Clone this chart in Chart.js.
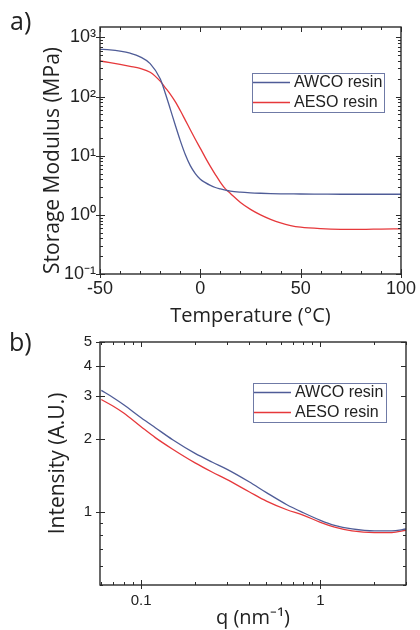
<!DOCTYPE html>
<html>
<head>
<meta charset="utf-8">
<script src="https://cdn.jsdelivr.net/npm/chart.js@4.4.0/dist/chart.umd.min.js"></script>
<style>
    html, body { margin: 0; padding: 0; background: #fff; }
    body { width: 420px; height: 630px; position: relative; overflow: hidden; }
    .panel { position: absolute; left: 0; width: 420px; }
    #topWrap { top: 0; height: 330px; }
    #bottomWrap { top: 325px; height: 305px; }
    .tag { position: absolute; font-family: 'Open Sans', sans-serif; font-size: 25px; line-height: 1; color: #222; }
</style>
</head>
<body>
<div class="panel" id="topWrap"><canvas id="modulusChart"></canvas></div>
<div class="panel" id="bottomWrap"><canvas id="saxsChart"></canvas></div>
<div class="tag" style="left:10px; top:8px;">a)</div>
<div class="tag" style="left:9px; top:329px;">b)</div>
<script>
const COLORS = {
    AWCO: '#4f5c97',
    AESO: '#e6383b',
    FRAME: '#2b2b2b',
    LEGEND_BOX: '#6f7aa6',
    TEXT: '#222'
};

// a) storage modulus vs temperature
const temperature = [-50, -45, -40, -35, -30, -25, -20, -17.5, -15, -12.5, -10, -7.5, -5, -2.5, 0, 2.5, 5, 7.5, 10, 12.5, 15, 20, 25, 30, 35, 40, 45, 50, 60, 70, 80, 90, 100];
const awcoModulus = [630, 615, 585, 540, 470, 360, 200, 115, 62, 33, 18, 10.5, 6.8, 5.0, 4.0, 3.5, 3.15, 2.9, 2.75, 2.62, 2.52, 2.42, 2.36, 2.32, 2.29, 2.27, 2.26, 2.25, 2.24, 2.23, 2.23, 2.23, 2.23];
const aesoModulus = [400, 375, 350, 325, 300, 258, 182, 142, 110, 82, 58, 40, 27.5, 19, 13.3, 9.3, 6.6, 4.8, 3.55, 2.75, 2.3, 1.62, 1.24, 1.0, 0.84, 0.73, 0.66, 0.62, 0.585, 0.57, 0.568, 0.575, 0.58];
const temperatureTicks = [-50, 0, 50, 100];
const modulusTicks = [0.1, 1, 10, 100, 1000];
const modulusTickLabels = ['10⁻¹', '10⁰', '10¹', '10²', '10³'];

// b) scattering intensity vs q
const q = [0.06, 0.07, 0.08, 0.1, 0.12, 0.15, 0.2, 0.25, 0.3, 0.4, 0.5, 0.65, 0.8, 1.0, 1.2, 1.5, 2.0, 2.5, 3.0];
const awcoIntensity = [3.16, 2.95, 2.76, 2.44, 2.22, 1.98, 1.74, 1.6, 1.5, 1.33, 1.2, 1.07, 0.993, 0.923, 0.88, 0.851, 0.835, 0.835, 0.85];
const aesoIntensity = [2.9, 2.72, 2.55, 2.24, 2.02, 1.81, 1.59, 1.455, 1.36, 1.21, 1.107, 1.02, 0.97, 0.905, 0.865, 0.835, 0.822, 0.822, 0.84];
const qTicks = [0.1, 1];
const qTickLabels = ['0.1', '1'];
const intensityTicks = [1, 2, 3, 4, 5];
const intensityTickLabels = ['1', '2', '3', '4', '5'];

const TICK_FONT = '"Liberation Sans", Arial, sans-serif';
const TITLE_FONT = '"Open Sans", sans-serif';

/**
 * Values for the small ticks of a scale: every k*10^n on a log axis,
 * every `step` units on a linear one.
 */
const minorValues = (scale, step) => {
    const out = [];
    if (scale.type === 'logarithmic') {
        const lo = Math.floor(Math.log10(scale.min));
        const hi = Math.ceil(Math.log10(scale.max));
        for (let e = lo; e <= hi; e++) {
            for (let k = 1; k < 10; k++) {
                const v = k * Math.pow(10, e);
                if (v >= scale.min * 0.999 && v <= scale.max * 1.001) out.push(v);
            }
        }
    } else {
        for (let v = scale.min; v <= scale.max + 1e-9; v += step) out.push(v);
    }
    return out;
};

// Origin style box with inward ticks on all four sides
const frameTicks = {
    id: 'frameTicks',
    afterDatasetsDraw(chart, args, opts) {
        const { ctx, chartArea: { left, right, top, bottom }, scales: { x, y } } = chart;
        ctx.save();
        ctx.strokeStyle = COLORS.FRAME;
        ctx.lineWidth = 1;
        ctx.beginPath();
        for (const v of minorValues(x, opts.xStep)) {
            const px = Math.round(x.getPixelForValue(v)) + 0.5;
            ctx.moveTo(px, bottom); ctx.lineTo(px, bottom - 3);
            ctx.moveTo(px, top); ctx.lineTo(px, top + 3);
        }
        for (const v of minorValues(y, opts.yStep)) {
            const py = Math.round(y.getPixelForValue(v)) + 0.5;
            ctx.moveTo(left, py); ctx.lineTo(left + 3, py);
            ctx.moveTo(right, py); ctx.lineTo(right - 3, py);
        }
        for (const t of x.ticks) {
            const px = Math.round(x.getPixelForValue(t.value)) + 0.5;
            ctx.moveTo(px, bottom + 4); ctx.lineTo(px, bottom - 5);
            ctx.moveTo(px, top); ctx.lineTo(px, top + 5);
        }
        for (const t of y.ticks) {
            const py = Math.round(y.getPixelForValue(t.value)) + 0.5;
            ctx.moveTo(left - 4, py); ctx.lineTo(left + 5, py);
            ctx.moveTo(right, py); ctx.lineTo(right - 5, py);
        }
        ctx.stroke();
        ctx.lineWidth = 1.4;
        ctx.strokeRect(left, top, right - left, bottom - top);
        ctx.restore();
    }
};

// boxed legend sitting inside the plot
const boxLegend = {
    id: 'boxLegend',
    afterDraw(chart, args, opts) {
        const { ctx } = chart;
        const sets = chart.data.datasets;
        ctx.save();
        ctx.strokeStyle = COLORS.LEGEND_BOX;
        ctx.lineWidth = 1;
        ctx.strokeRect(opts.x + 0.5, opts.y + 0.5, opts.width, opts.height);
        ctx.font = '16px ' + TICK_FONT;
        ctx.textBaseline = 'middle';
        sets.forEach((ds, i) => {
            const cy = opts.y + opts.firstRow + i * opts.rowHeight;
            ctx.strokeStyle = ds.borderColor;
            ctx.lineWidth = 1.3;
            ctx.beginPath();
            ctx.moveTo(opts.x + 1, cy);
            ctx.lineTo(opts.x + 1 + opts.lineLength, cy);
            ctx.stroke();
            ctx.fillStyle = COLORS.TEXT;
            ctx.fillText(ds.label, opts.x + opts.lineLength + 5, cy);
        });
        ctx.restore();
    }
};

const fixedTicks = (values) => (scale) => {
    scale.ticks = values.map(v => ({ value: v }));
};

const lineSet = (label, xs, ys, color) => ({
    label,
    data: xs.map((v, i) => ({ x: v, y: ys[i] })),
    borderColor: color,
    backgroundColor: color,
    borderWidth: 1.3,
    pointRadius: 0,
    cubicInterpolationMode: 'monotone'
});

new Chart(document.getElementById('modulusChart'), {
    type: 'line',
    data: {
        datasets: [
            lineSet('AWCO resin', temperature, awcoModulus, COLORS.AWCO),
            lineSet('AESO resin', temperature, aesoModulus, COLORS.AESO)
        ]
    },
    plugins: [frameTicks, boxLegend],
    options: {
        responsive: true,
        maintainAspectRatio: false,
        animation: false,
        layout: { autoPadding: false, padding: { top: 27, right: 14, left: 0, bottom: 0 } },
        plugins: {
            legend: { display: false },
            tooltip: { enabled: false },
            frameTicks: { xStep: 10 },
            boxLegend: { x: 252, y: 73, width: 132, height: 39, firstRow: 9.5, rowHeight: 20, lineLength: 37 }
        },
        scales: {
            x: {
                type: 'linear',
                min: -50,
                max: 100,
                afterBuildTicks: fixedTicks(temperatureTicks),
                afterFit: s => { s.height = 56; },
                grid: { display: false, drawTicks: false },
                border: { display: false },
                ticks: { color: COLORS.TEXT, font: { family: TICK_FONT, size: 18 }, padding: 4, maxRotation: 0, autoSkip: false },
                title: { display: true, text: 'Temperature (°C)', color: COLORS.TEXT, font: { family: TITLE_FONT, size: 20 }, padding: { top: 0, bottom: 2 } }
            },
            y: {
                type: 'logarithmic',
                min: 0.1,
                max: 1500,
                afterBuildTicks: fixedTicks(modulusTicks),
                afterFit: s => { s.width = 100; },
                grid: { display: false, drawTicks: false },
                border: { display: false },
                ticks: {
                    color: COLORS.TEXT,
                    font: { family: TICK_FONT, size: 18 },
                    padding: 4,
                    autoSkip: false,
                    callback: v => modulusTickLabels[modulusTicks.indexOf(v)]
                },
                title: { display: true, text: 'Storage Modulus (MPa)', align: 'start', color: COLORS.TEXT, font: { family: TITLE_FONT, size: 21 }, padding: { top: 40, bottom: 0 } }
            }
        }
    }
});

new Chart(document.getElementById('saxsChart'), {
    type: 'line',
    data: {
        datasets: [
            lineSet('AWCO resin', q, awcoIntensity, COLORS.AWCO),
            lineSet('AESO resin', q, aesoIntensity, COLORS.AESO)
        ]
    },
    plugins: [frameTicks, boxLegend],
    options: {
        responsive: true,
        maintainAspectRatio: false,
        animation: false,
        layout: { autoPadding: false, padding: { top: 12, right: 14, left: 0, bottom: 0 } },
        plugins: {
            legend: { display: false },
            tooltip: { enabled: false },
            frameTicks: {},
            boxLegend: { x: 253, y: 58, width: 133, height: 39, firstRow: 9.5, rowHeight: 20, lineLength: 37 }
        },
        scales: {
            x: {
                type: 'logarithmic',
                min: 0.059,
                max: 3,
                afterBuildTicks: fixedTicks(qTicks),
                afterFit: s => { s.height = 45; },
                grid: { display: false, drawTicks: false },
                border: { display: false },
                ticks: {
                    color: COLORS.TEXT,
                    font: { family: TICK_FONT, size: 15 },
                    padding: 7,
                    maxRotation: 0,
                    autoSkip: false,
                    callback: v => qTickLabels[qTicks.indexOf(v)]
                },
                title: { display: true, text: 'q (nm⁻¹)', color: COLORS.TEXT, font: { family: TITLE_FONT, size: 20 }, padding: { top: 0, bottom: 0 } }
            },
            y: {
                type: 'logarithmic',
                min: 0.5,
                max: 5,
                afterBuildTicks: fixedTicks(intensityTicks),
                afterFit: s => { s.width = 100; },
                grid: { display: false, drawTicks: false },
                border: { display: false },
                ticks: {
                    color: COLORS.TEXT,
                    font: { family: TICK_FONT, size: 15 },
                    padding: 8,
                    autoSkip: false,
                    callback: v => intensityTickLabels[intensityTicks.indexOf(v)]
                },
                title: { display: true, text: 'Intensity (A.U.)', color: COLORS.TEXT, font: { family: TITLE_FONT, size: 21 }, padding: { top: 45, bottom: 0 } }
            }
        }
    }
});
</script>
</body>
</html>
